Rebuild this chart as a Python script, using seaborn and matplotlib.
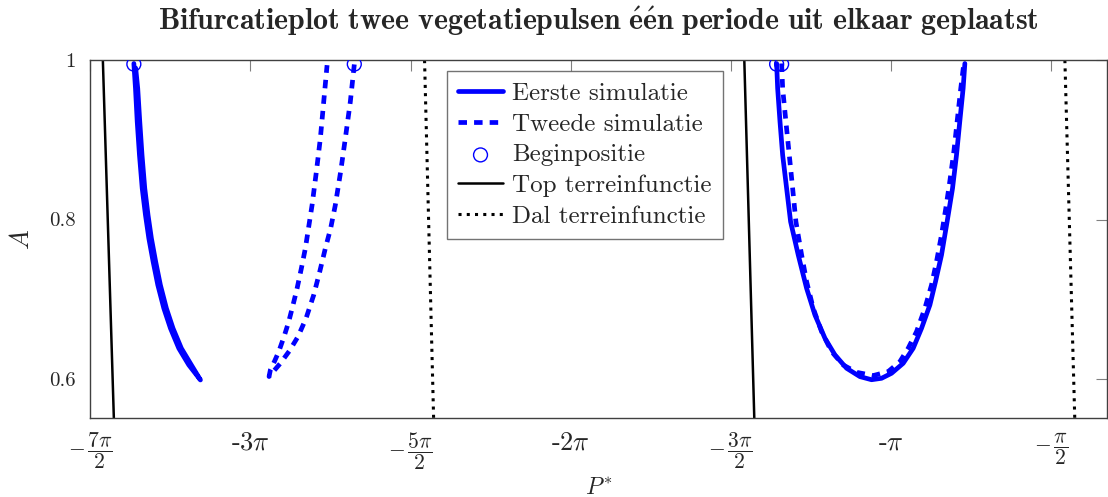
import numpy as np
import pandas as pd
import matplotlib
matplotlib.use("Agg")
import matplotlib.pyplot as plt
import seaborn as sns

# --- data -------------------------------------------------------------------
# Eerste simulatie: left branch runs down and returns almost along itself
eerste_links_p = [-10.568, -10.552, -10.535, -10.513, -10.486, -10.454, -10.421,
                  -10.379, -10.333, -10.274, -10.209, -10.127, -10.029, -9.915,
                  -10.004, -10.102, -10.184, -10.249, -10.308, -10.354, -10.396,
                  -10.429, -10.461, -10.488, -10.510, -10.530, -10.550]
eerste_links_a = [0.9958, 0.9645, 0.9227, 0.8809, 0.8391, 0.8056, 0.7764,
                  0.7471, 0.7179, 0.6886, 0.6635, 0.6384, 0.6175, 0.5987,
                  0.6175, 0.6384, 0.6635, 0.6886, 0.7179, 0.7471, 0.7764,
                  0.8056, 0.8391, 0.8809, 0.9227, 0.9645, 0.9900]
eerste_rechts_p = [-4.264, -4.254, -4.231, -4.205, -4.166, -4.127, -4.052, -3.970,
                   -3.888, -3.790, -3.692, -3.578, -3.447, -3.333, -3.235, -3.137,
                   -3.023, -2.925, -2.843, -2.761, -2.706, -2.647, -2.592, -2.539,
                   -2.500, -2.468, -2.435, -2.418]
eerste_rechts_a = [0.9958, 0.9645, 0.9227, 0.8809, 0.8391, 0.7973, 0.7555, 0.7137,
                   0.6802, 0.6510, 0.6301, 0.6134, 0.6029, 0.5990, 0.6008, 0.6071,
                   0.6196, 0.6384, 0.6635, 0.6928, 0.7220, 0.7555, 0.7973, 0.8391,
                   0.8809, 0.9227, 0.9645, 0.9958]

# Tweede simulatie
tweede_links_p = [-8.406, -8.445, -8.494, -8.540, -8.592, -8.638, -8.690, -8.745,
                  -8.804, -8.879, -8.958, -9.043, -9.131, -9.229, -9.242,
                  -9.229, -9.190, -9.147, -9.095, -9.049, -9.007, -8.967, -8.925,
                  -8.886, -8.853, -8.820, -8.778, -8.739, -8.706, -8.673]
tweede_links_a = [0.9946, 0.9478, 0.9018, 0.8600, 0.8182, 0.7889, 0.7638, 0.7346,
                  0.7053, 0.6761, 0.6531, 0.6351, 0.6196, 0.6050, 0.6030,
                  0.6113, 0.6217, 0.6342, 0.6531, 0.6719, 0.6928, 0.7137, 0.7388,
                  0.7638, 0.7910, 0.8182, 0.8600, 0.9018, 0.9478, 0.9937]
tweede_rechts_p = [-4.215, -4.205, -4.173, -4.140, -4.107, -4.075, -4.019, -3.970,
                   -3.905, -3.823, -3.725, -3.611, -3.480, -3.317, -3.170, -3.055,
                   -2.974, -2.892, -2.810, -2.745, -2.696, -2.647, -2.605, -2.566,
                   -2.526, -2.494, -2.458, -2.428]
tweede_rechts_a = [0.9958, 0.9645, 0.9227, 0.8809, 0.8391, 0.7973, 0.7555, 0.7220,
                   0.6886, 0.6593, 0.6343, 0.6175, 0.6083, 0.6042, 0.6092, 0.6217,
                   0.6384, 0.6593, 0.6886, 0.7178, 0.7471, 0.7806, 0.8140, 0.8474,
                   0.8851, 0.9227, 0.9645, 0.9958]

# Starting positions
begin_p = [-10.568, -8.406, -4.264, -4.215]
begin_a = [0.995, 0.995, 0.995, 0.995]

# Terrain: tops and valleys
top1_p = [-10.872, -10.764]
top2_p = [-4.581, -4.483]
dal1_p = [-7.717, -7.628]
dal2_p = [-1.437, -1.340]
terrein_a = [1.0, 0.55]

xtick_vals = [-7 * np.pi / 2, -3 * np.pi, -5 * np.pi / 2, -2 * np.pi,
              -3 * np.pi / 2, -np.pi, -np.pi / 2]
xtick_labels = [r"$-\,\dfrac{7\pi}{2}$", r"-3$\pi$", r"$-\,\dfrac{5\pi}{2}$", r"-2$\pi$",
                r"$-\,\dfrac{3\pi}{2}$", r"-$\pi$", r"$-\,\dfrac{\pi}{2}$"]
ytick_vals = [0.6, 0.8, 1.0]
ytick_labels = ["0.6", "0.8", "1"]

# --- style ------------------------------------------------------------------
sns.set_style("white")
plt.rcParams["font.family"] = ["cmr10"]
plt.rcParams["mathtext.fontset"] = "cm"
plt.rcParams["axes.unicode_minus"] = False
plt.rcParams["axes.formatter.use_mathtext"] = True

fig = plt.figure(figsize=(11.08, 4.97), dpi=100)
ax = fig.add_axes([0.081, 0.159, 0.918, 0.720])

blue = "#0000ff"
solid_lw = 3.4
dash_style = (0, (1.8, 1.5))
dot_style = (0, (1, 1.7))


def line(p, a, **kw):
    df = pd.DataFrame({"p": p, "a": a})
    sns.lineplot(data=df, x="p", y="a", sort=False, estimator=None, ax=ax, **kw)


line(eerste_links_p, eerste_links_a, color=blue, lw=solid_lw, label="Eerste simulatie")
line(eerste_rechts_p, eerste_rechts_a, color=blue, lw=solid_lw)
line(tweede_links_p, tweede_links_a, color=blue, lw=solid_lw, linestyle=dash_style,
     label="Tweede simulatie")
line(tweede_rechts_p, tweede_rechts_a, color=blue, lw=solid_lw, linestyle=dash_style)

sns.scatterplot(x=begin_p, y=begin_a, ax=ax, marker="o", s=100, facecolor="none",
                edgecolor=blue, linewidth=1.0, label="Beginpositie", zorder=5)

line(top1_p, terrein_a, color="black", lw=1.8, label="Top terreinfunctie")
line(top2_p, terrein_a, color="black", lw=1.8)
line(dal1_p, terrein_a, color="black", lw=2.2, linestyle=dot_style,
     label="Dal terreinfunctie")
line(dal2_p, terrein_a, color="black", lw=2.2, linestyle=dot_style)

ax.set_xlim(-7 * np.pi / 2 - 0.005, -1.025)
ax.set_ylim(0.551, 1.0)
ax.tick_params(direction="in", top=True, right=True, length=8, width=0.8,
               color="#808080")
ax.tick_params(axis="x", labelsize=19, pad=9)
ax.tick_params(axis="y", labelsize=15, pad=10)
ax.set_xticks(xtick_vals)
ax.set_xticklabels(xtick_labels)
ax.set_yticks(ytick_vals)
ax.set_yticklabels(ytick_labels)
# fractions are typeset in display style at a smaller size
for i, tick in enumerate(ax.xaxis.get_major_ticks()):
    if "dfrac" in xtick_labels[i]:
        tick.label1.set_fontsize(15.5)

for s in ax.spines.values():
    s.set_color("#404040")
    s.set_linewidth(1.0)
    s.set_visible(True)

ax.set_xlabel(r"$P^{*}$", fontsize=17)
ax.xaxis.set_label_coords(0.5, -0.165)
ax.set_ylabel(r"$A$", fontsize=19, labelpad=11)
ax.set_title(r"$\mathbf{Bifurcatieplot\ twee\ vegetatiepulsen\ \acute{e}\acute{e}n\ periode\ uit\ elkaar\ geplaatst}$",
             fontsize=21.5, pad=22)

handles, labels = ax.get_legend_handles_labels()
order = ["Eerste simulatie", "Tweede simulatie", "Beginpositie",
         "Top terreinfunctie", "Dal terreinfunctie"]
hmap = dict(zip(labels, handles))
leg = ax.legend([hmap[k] for k in order], order, loc="upper left",
                bbox_to_anchor=(0.351, 0.969), borderaxespad=0, fontsize=18,
                frameon=True, fancybox=False, edgecolor="#505050",
                handlelength=1.8, handletextpad=0.35, labelspacing=0.33,
                borderpad=0.45)
leg.get_frame().set_linewidth(1.0)

fig.savefig("out.png", dpi=100)
